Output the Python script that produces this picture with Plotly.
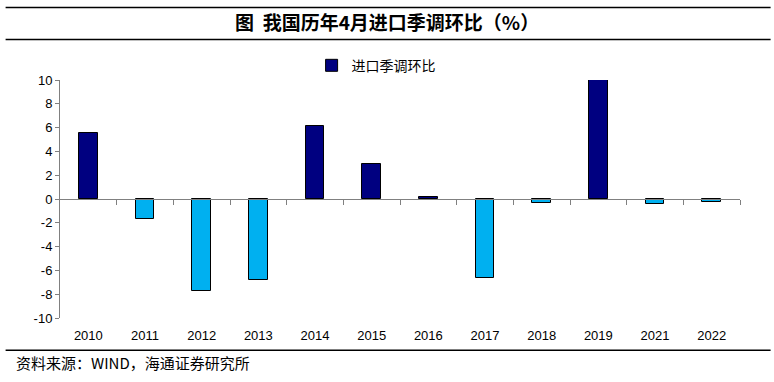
import plotly.graph_objects as go

years = ["2010", "2011", "2012", "2013", "2014", "2015", "2016", "2017", "2018", "2019", "2021", "2022"]
values = [5.55, -1.7, -7.75, -6.8, 6.15, 2.9, 0.15, -6.65, -0.3, 10.0, -0.4, -0.25]
series_name = "进口季调环比"
title_text = "图  我国历年4月进口季调环比（%）"
source_text = "资料来源：WIND，海通证券研究所"
y_ticks = [10, 8, 6, 4, 2, 0, -2, -4, -6, -8, -10]
y_tick_text = [str(v) for v in y_ticks]

POS = "#000080"
NEG = "#00B0F0"
colors = [POS if v >= 0 else NEG for v in values]
FONT = "Liberation Sans, Arial, Noto Sans CJK SC"

fig = go.Figure()
fig.add_trace(go.Bar(
    x=list(range(len(years))), y=values, name=series_name,
    marker=dict(color=colors, line=dict(color="black", width=1)),
    width=0.33, showlegend=True,
))
# invisible trace to carry the zero-line axis with ticks
fig.add_trace(go.Scatter(x=[-0.5, len(years) - 0.5], y=[0, 0], xaxis="x2", mode="lines",
                         line=dict(width=0), showlegend=False, hoverinfo="skip"))

n = len(years)
fig.update_layout(
    width=774, height=382,
    paper_bgcolor="white", plot_bgcolor="white",
    margin=dict(l=60, r=34, t=80, b=64, autoexpand=False),
    font=dict(family=FONT, size=13, color="black"),
    bargap=0,
    xaxis=dict(range=[-0.5, n - 0.5], tickmode="array", tickvals=list(range(n)), ticktext=years,
               showline=False, showgrid=False, zeroline=False, ticks="outside", ticklen=5,
               tickcolor="rgba(0,0,0,0)", tickfont=dict(size=13, family=FONT)),
    xaxis2=dict(range=[-0.5, n - 0.5], overlaying="x", anchor="free", position=0.5,
                side="bottom", showline=True, linecolor="#808080", linewidth=1,
                tickmode="array", tickvals=[i + 0.5 for i in range(n)], ticks="outside",
                ticklen=5, tickcolor="#808080", showticklabels=False, showgrid=False, zeroline=False),
    yaxis=dict(range=[-10, 10], tickmode="array", tickvals=y_ticks, ticktext=y_tick_text,
               ticks="outside", ticklen=4,
               tickcolor="#808080", showline=True, linecolor="#808080", linewidth=1,
               showgrid=False, zeroline=False, tickfont=dict(size=13, family=FONT)),
    legend=dict(x=0.37, y=1.06, xanchor="left", yanchor="middle", bgcolor="rgba(0,0,0,0)",
                font=dict(size=14, family="Noto Sans CJK SC"), itemwidth=30),
    showlegend=True,
)

# Title and rules
fig.add_shape(type="line", xref="paper", yref="paper", x0=-0.08, x1=1.045, y0=1.305, y1=1.305,
              line=dict(color="black", width=1.5))
fig.add_shape(type="line", xref="paper", yref="paper", x0=-0.08, x1=1.045, y0=1.17, y1=1.17,
              line=dict(color="black", width=1.5))
fig.add_shape(type="line", xref="paper", yref="paper", x0=-0.08, x1=1.045, y0=-0.135, y1=-0.135,
              line=dict(color="black", width=1.5))
fig.add_annotation(text="<b>" + title_text + "</b>", xref="paper", yref="paper", x=0.481, y=1.245,
                   showarrow=False, font=dict(size=19, family="Noto Sans CJK SC"), xanchor="center", yanchor="middle")
fig.add_annotation(text=source_text, xref="paper", yref="paper", x=-0.068, y=-0.185,
                   showarrow=False, font=dict(size=15, family="Noto Sans CJK SC"), xanchor="left", yanchor="middle")

fig.write_html("out.html", config={"displayModeBar": False},
               post_script="document.body.style.margin='0';document.body.style.overflow='hidden';")
